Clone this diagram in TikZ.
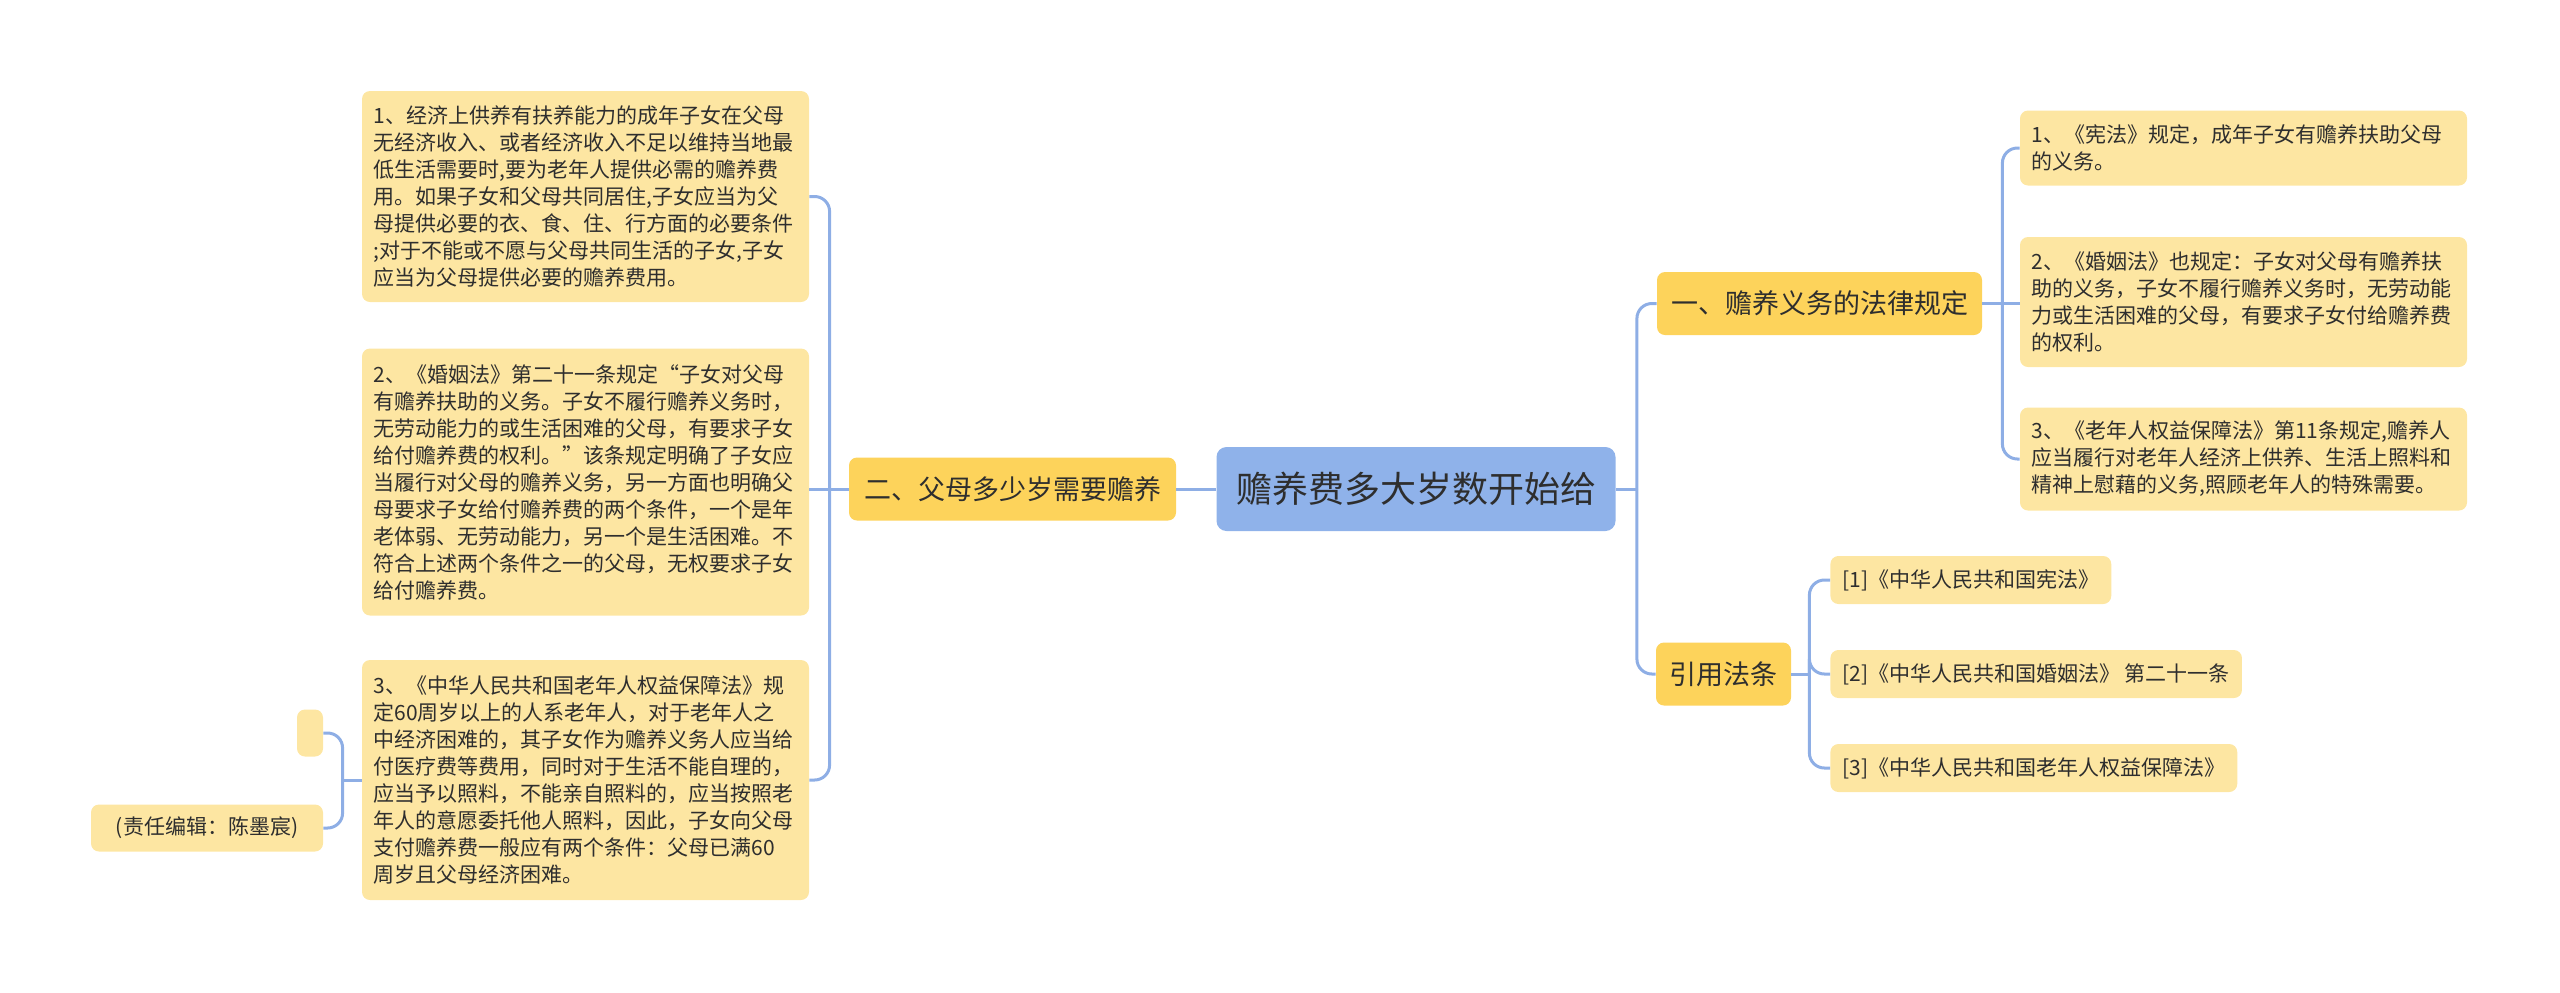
\documentclass[tikz,border=0pt]{standalone}
\usepackage{fontspec}
\setmainfont{Noto Sans CJK SC}
\usepackage{xcolor}
\usepackage{tikz}
\definecolor{rootblue}{HTML}{8FB2EA}
\definecolor{branchgold}{HTML}{FDD35B}
\definecolor{leafcream}{HTML}{FDE6A2}
\definecolor{linkblue}{HTML}{8EAEE5}
\definecolor{inkgray}{HTML}{2E2E2E}

\begin{document}
\begin{tikzpicture}[x=0.5pt, y=-0.5pt,
  rootbox/.style={fill=rootblue, rounded corners=5pt, text=inkgray, minimum width=199.5pt, minimum height=42pt, font=\fontsize{18}{22}\selectfont},
  branchbox/.style={fill=branchgold, rounded corners=4pt, text=inkgray, minimum height=31.5pt, inner xsep=0pt, font=\fontsize{13.5}{16}\selectfont},
  leafbox/.style={fill=leafcream, rounded corners=4pt, text=inkgray, align=left, text width=212pt, inner xsep=5.75pt, inner ysep=0pt, font=\fontsize{10.5}{13.5}\selectfont},
  citebox/.style={fill=leafcream, rounded corners=4pt, text=inkgray, minimum height=24pt, inner xsep=6pt, inner ysep=0pt, anchor=west, font=\fontsize{10.5}{13.5}\selectfont},
  link/.style={draw=linkblue, line width=1.5pt, rounded corners=7.5pt}]

\useasboundingbox (0,0) rectangle (2560,992);

% Step 1: centre and main branches
\node[rootbox] (root) at (1416,489) {赡养费多大岁数开始给};
\node[branchbox, minimum width=163.5pt] (age) at (1012.5,489) {二、父母多少岁需要赡养};
\node[branchbox, minimum width=162.5pt] (duty) at (1819.5,303.5) {一、赡养义务的法律规定};
\node[branchbox, minimum width=67.5pt] (cite) at (1723.5,674) {引用法条};

% Step 2: left leaves
\node[leafbox, minimum height=105.5pt] (ageA) at (585.5,196.5) {1、经济上供养有扶养能力的成年子女在父母\\无经济收入、或者经济收入不足以维持当地最\\低生活需要时,要为老年人提供必需的赡养费\\用。如果子女和父母共同居住,子女应当为父\\母提供必要的衣、食、住、行方面的必要条件\\;对于不能或不愿与父母共同生活的子女,子女\\应当为父母提供必要的赡养费用。};
\node[leafbox, minimum height=133.5pt] (ageB) at (585.5,482) {2、《婚姻法》第二十一条规定“子女对父母\\有赡养扶助的义务。子女不履行赡养义务时，\\无劳动能力的或生活困难的父母，有要求子女\\给付赡养费的权利。”该条规定明确了子女应\\当履行对父母的赡养义务，另一方面也明确父\\母要求子女给付赡养费的两个条件，一个是年\\老体弱、无劳动能力，另一个是生活困难。不\\符合上述两个条件之一的父母，无权要求子女\\给付赡养费。};
\node[leafbox, minimum height=120pt] (ageC) at (585.5,780) {3、《中华人民共和国老年人权益保障法》规\\定60周岁以上的人系老年人，对于老年人之\\中经济困难的，其子女作为赡养义务人应当给\\付医疗费等费用，同时对于生活不能自理的，\\应当予以照料，不能亲自照料的，应当按照老\\年人的意愿委托他人照料，因此，子女向父母\\支付赡养费一般应有两个条件：父母已满60\\周岁且父母经济困难。};

% Step 3: the two small boxes beside the third leaf
\node[fill=leafcream, rounded corners=4pt, minimum width=13pt, minimum height=23.5pt, inner sep=0pt] (blank) at (310,733) {};
\node[fill=leafcream, rounded corners=4pt, text=inkgray, minimum width=116pt, minimum height=23.5pt, inner sep=0pt, font=\fontsize{10.5}{13.5}\selectfont] (editor) at (207,828) {(责任编辑：陈墨宸)};

% Step 4: right leaves
\node[leafbox, minimum height=37.5pt] (dutyA) at (2243.5,148) {1、《宪法》规定，成年子女有赡养扶助父母\\的义务。};
\node[leafbox, minimum height=65pt] (dutyB) at (2243.5,302) {2、《婚姻法》也规定：子女对父母有赡养扶\\助的义务，子女不履行赡养义务时，无劳动能\\力或生活困难的父母，有要求子女付给赡养费\\的权利。};
\node[leafbox, minimum height=51.5pt] (dutyC) at (2243.5,459) {3、《老年人权益保障法》第11条规定,赡养人\\应当履行对老年人经济上供养、生活上照料和\\精神上慰藉的义务,照顾老年人的特殊需要。};

\node[citebox] (citeA) at (1830,580) {[1]《中华人民共和国宪法》};
\node[citebox] (citeB) at (1830,674) {[2]《中华人民共和国婚姻法》 第二十一条};
\node[citebox] (citeC) at (1830,768) {[3]《中华人民共和国老年人权益保障法》};

% Step 5: connectors
\draw[link] (root.west) -- (age.east);
\draw[link] (root.east) -- ++(21,0) coordinate (rootfork);
\foreach \b in {duty,cite} {
  \draw[link] (rootfork) |- (\b.west);
}

\draw[link] (age.west) -- ++(-19,0) coordinate (agefork);
\draw[link] (agefork) -- (agefork -| ageB.east);
\foreach \l in {ageA,ageC} {
  \draw[link] (agefork) |- (\l.east);
}

\draw[link] (ageC.west) -- ++(-19,0) coordinate (notefork);
\foreach \l in {blank,editor} {
  \draw[link] (notefork) |- (\l.east);
}

\draw[link] (duty.east) -- ++(20,0) coordinate (dutyfork);
\draw[link] (dutyfork) -- (dutyfork -| dutyB.west);
\foreach \l in {dutyA,dutyC} {
  \draw[link] (dutyfork) |- (\l.west);
}

\draw[link] (cite.east) -- ++(18,0) coordinate (citefork);
\foreach \l in {citeA,citeB,citeC} {
  \draw[link] (citefork) |- (\l.west);
}
\end{tikzpicture}
\end{document}
